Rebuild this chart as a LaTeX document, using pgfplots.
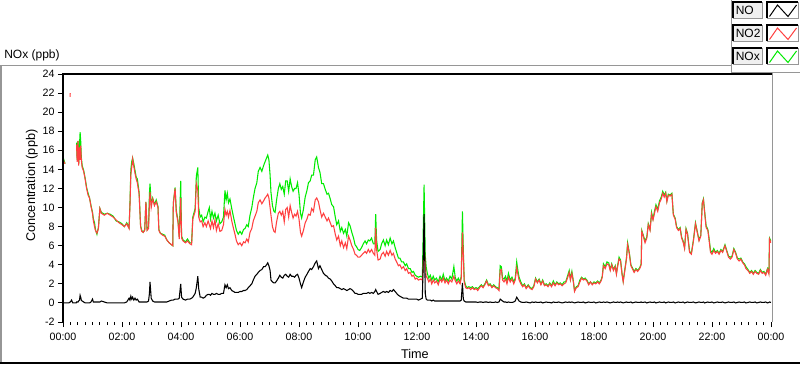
\documentclass[border=0pt]{standalone}
\usepackage{pgfplots}
\usepackage{pgfplotstable}
\pgfplotsset{compat=1.18}
\usepackage{fontspec}
\setmainfont{Liberation Sans}
\definecolor{noxgreen}{RGB}{0,235,0}
\definecolor{no2red}{RGB}{255,64,64}
\definecolor{framegray}{RGB}{150,150,150}

\pgfplotstableread{
t no no2 nox
0.00 0.0 15.2 15.3
0.03 0.0 14.8 15.0
0.07 0.0 14.6 14.6
0.08 0.0 nan nan
0.20 0.0 nan nan
0.24 0.1 21.6 nan
0.245 0.1 22.0 nan
0.25 0.1 nan nan
0.29 0.3 nan nan
0.33 0.0 nan nan
0.45 0.0 nan nan
0.46 0.1 16.6 16.8
0.48 0.1 14.8 15.0
0.51 0.1 17.0 17.0
0.53 0.2 14.4 14.5
0.56 0.3 16.3 16.6
0.58 0.8 15.0 17.9
0.60 0.6 16.5 17.0
0.62 0.3 15.0 15.3
0.65 0.2 14.2 14.4
0.70 0.1 13.8 13.9
0.75 0.0 13.0 13.1
0.80 0.0 12.0 12.1
0.85 0.0 11.3 11.5
0.90 0.0 11.0 11.0
0.95 0.1 10.1 10.2
1.00 0.4 9.4 9.5
1.03 0.1 8.6 8.8
1.07 0.1 8.0 8.4
1.10 0.1 7.6 7.7
1.15 0.1 7.3 7.2
1.20 0.1 7.8 7.9
1.25 0.1 9.9 9.9
1.30 0.2 9.4 9.5
1.40 0.1 9.2 9.3
1.50 0.0 9.4 9.4
1.60 0.0 9.2 9.3
1.70 0.0 9.0 9.1
1.80 0.0 8.7 8.6
1.90 0.0 8.4 8.5
2.00 0.0 8.2 8.3
2.08 0.0 8.0 8.0
2.16 0.1 8.3 8.4
2.24 0.5 7.8 7.9
2.27 0.3 10.2 10.4
2.30 0.7 13.5 14.0
2.33 0.4 14.2 14.8
2.36 0.6 15.1 15.2
2.40 0.3 14.3 14.6
2.44 0.5 13.6 13.9
2.48 0.3 13.0 13.2
2.52 0.4 12.6 13.0
2.58 0.1 11.4 11.6
2.63 0.1 8.0 8.1
2.67 0.1 7.5 7.6
2.72 0.1 7.4 7.4
2.77 0.1 7.6 7.7
2.81 0.1 10.6 10.6
2.85 0.1 7.6 7.7
2.90 0.2 7.8 8.0
2.93 1.0 10.5 11.5
2.95 2.2 11.6 12.5
2.99 0.5 10.0 10.4
3.04 0.2 10.9 11.0
3.10 0.1 10.2 10.3
3.16 0.1 10.6 10.8
3.22 0.1 10.0 10.1
3.25 0.1 7.6 7.7
3.30 0.1 7.3 7.3
3.38 0.1 7.1 7.2
3.45 0.1 7.0 7.1
3.52 0.1 6.6 6.6
3.60 0.2 6.3 6.3
3.68 0.3 6.1 6.1
3.72 0.3 6.0 6.0
3.74 0.3 10.4 10.5
3.80 0.4 12.0 12.1
3.84 0.4 9.5 9.7
3.90 0.4 8.4 8.6
3.94 0.5 6.7 6.9
3.99 2.0 11.0 12.8
4.02 0.6 6.8 7.0
4.07 0.4 6.5 6.6
4.15 0.3 6.3 6.4
4.22 0.4 6.5 6.7
4.30 0.4 6.2 6.3
4.36 0.5 6.1 6.3
4.40 0.6 8.8 9.0
4.48 1.0 9.6 9.9
4.52 1.6 12.5 13.3
4.57 2.8 11.8 14.2
4.60 1.5 9.0 10.0
4.65 0.6 8.5 9.0
4.70 0.6 8.6 9.2
4.75 0.5 8.0 8.5
4.81 0.6 8.4 9.0
4.86 0.8 8.0 8.9
4.92 0.9 8.6 9.6
4.96 0.9 8.2 10.0
5.00 0.8 7.8 8.8
5.05 1.0 8.6 9.6
5.10 0.9 7.9 8.9
5.15 0.9 8.7 9.4
5.20 1.0 7.6 8.6
5.26 0.9 8.3 9.2
5.32 0.9 7.5 8.3
5.38 1.0 7.6 8.5
5.44 1.0 8.2 9.0
5.49 1.9 9.8 11.8
5.53 1.6 9.2 10.8
5.57 1.9 9.6 11.5
5.61 1.5 9.0 10.5
5.66 1.6 9.7 10.9
5.72 1.3 8.6 9.9
5.78 1.2 7.8 9.0
5.83 1.1 7.2 8.3
5.88 1.1 6.5 7.6
5.94 1.1 6.1 7.2
6.00 1.2 6.3 7.5
6.06 1.2 6.0 7.2
6.12 1.3 6.4 7.7
6.17 1.3 6.3 7.8
6.23 1.4 6.7 8.2
6.28 1.6 6.4 8.0
6.34 1.8 7.4 9.2
6.40 2.0 7.8 10.0
6.45 2.4 8.6 11.0
6.51 2.8 9.1 12.0
6.57 3.0 9.6 12.6
6.62 3.2 10.5 13.8
6.68 3.4 10.8 14.2
6.74 3.5 10.4 13.8
6.80 3.8 10.7 14.4
6.85 3.8 11.0 14.8
6.90 4.0 11.2 15.2
6.94 4.2 11.4 15.5
6.98 3.9 11.0 15.0
7.02 3.4 10.0 13.4
7.05 2.4 9.2 11.6
7.10 2.2 8.0 10.2
7.15 2.1 7.5 9.6
7.19 2.1 7.4 9.5
7.24 2.3 8.5 10.8
7.30 2.6 9.4 12.0
7.35 2.9 9.6 12.5
7.40 2.7 9.2 11.9
7.45 2.6 9.6 12.2
7.50 2.9 8.5 11.4
7.55 3.0 9.8 12.8
7.60 2.8 10.0 12.8
7.65 2.7 9.0 11.7
7.70 3.0 10.2 13.0
7.75 2.8 9.5 12.2
7.80 2.8 8.9 11.7
7.85 2.7 9.3 12.0
7.90 2.9 9.1 12.0
7.95 3.0 9.6 12.6
8.00 2.6 8.8 11.4
8.05 2.0 7.4 9.4
8.09 1.6 7.0 8.9
8.15 2.2 7.6 9.8
8.21 2.7 8.4 11.1
8.27 3.0 8.8 11.8
8.32 3.3 9.3 12.6
8.38 3.6 9.2 12.8
8.43 3.5 9.9 13.4
8.49 3.8 9.6 13.4
8.55 4.2 10.8 15.0
8.60 4.4 11.0 15.3
8.66 3.6 10.6 14.2
8.71 3.9 9.8 13.7
8.77 3.5 9.0 12.5
8.83 3.1 9.4 12.5
8.89 2.9 9.0 11.9
8.95 2.8 8.6 11.4
9.00 2.6 8.9 11.5
9.06 2.5 8.4 10.9
9.11 2.3 8.0 10.3
9.17 2.0 8.1 10.1
9.23 1.8 7.2 9.0
9.28 1.6 6.6 8.2
9.34 1.6 7.0 8.6
9.40 1.5 6.0 7.5
9.45 1.4 6.5 7.9
9.51 1.5 5.8 7.3
9.57 1.4 6.3 7.7
9.62 1.3 5.7 7.0
9.68 1.4 7.0 8.4
9.73 1.5 6.6 8.1
9.79 1.4 6.0 7.4
9.85 1.2 5.6 6.8
9.90 1.0 5.1 6.1
9.95 1.0 5.0 5.9
10.00 0.9 4.8 5.6
10.06 0.9 4.8 5.5
10.12 0.9 5.0 5.8
10.18 1.0 5.2 6.2
10.24 1.0 5.4 6.5
10.29 1.0 5.2 6.2
10.35 1.1 5.6 6.6
10.40 1.0 5.3 6.5
10.46 1.1 5.6 6.8
10.52 1.0 5.2 6.2
10.57 1.2 5.0 6.2
10.60 1.4 7.9 9.3
10.63 1.2 5.6 6.6
10.68 0.9 4.5 5.4
10.75 1.0 4.6 5.6
10.80 1.1 5.1 6.2
10.86 1.2 5.3 6.6
10.92 1.1 4.9 6.0
10.97 1.2 5.4 6.6
11.03 1.1 5.0 6.1
11.09 1.3 5.5 6.8
11.15 1.2 5.0 6.2
11.20 1.4 5.2 6.5
11.26 1.2 4.6 5.8
11.31 1.0 4.3 5.3
11.37 0.8 3.9 4.7
11.42 0.7 4.0 4.7
11.48 0.6 3.6 4.3
11.54 0.5 3.8 4.3
11.60 0.5 3.4 3.9
11.65 0.5 3.6 4.1
11.71 0.4 3.1 3.6
11.77 0.4 3.2 3.6
11.83 0.4 2.8 3.2
11.88 0.4 2.9 3.3
11.94 0.4 2.5 2.9
11.99 0.4 2.6 2.8
12.05 0.3 2.4 2.7
12.12 0.4 2.5 2.8
12.18 0.5 2.4 2.7
12.20 2.8 3.0 5.6
12.24 9.3 6.3 12.4
12.28 1.0 4.0 5.0
12.31 0.4 2.8 3.8
12.35 0.3 2.6 3.1
12.40 0.3 2.2 2.6
12.45 0.3 2.5 2.9
12.50 0.2 2.0 2.4
12.55 0.3 2.4 2.8
12.60 0.2 2.1 2.4
12.66 0.2 2.3 2.6
12.72 0.2 1.9 2.2
12.78 0.2 2.5 2.8
12.84 0.2 2.2 2.4
12.89 0.2 2.6 3.0
12.95 0.2 2.1 2.3
13.00 0.2 2.4 2.6
13.06 0.2 2.0 2.3
13.12 0.2 2.4 2.8
13.18 0.2 2.2 2.5
13.25 0.2 2.8 3.8
13.30 0.2 2.3 2.6
13.35 0.2 2.0 2.3
13.40 0.2 2.3 2.6
13.46 0.2 2.0 2.2
13.50 0.3 2.6 2.8
13.54 2.1 7.4 9.6
13.57 0.4 5.0 5.6
13.60 0.2 2.2 2.4
13.65 0.1 1.6 1.8
13.70 0.1 1.5 1.6
13.76 0.1 1.6 1.7
13.82 0.1 1.4 1.6
13.88 0.1 1.6 1.7
13.94 0.1 1.4 1.5
14.00 0.1 1.5 1.6
14.06 0.05 1.3 1.5
14.12 0.1 1.6 1.7
14.18 0.1 1.8 1.9
14.24 0.05 1.6 1.7
14.30 0.1 1.9 2.0
14.36 0.1 2.3 2.4
14.42 0.05 1.8 1.9
14.48 0.1 1.9 2.0
14.54 0.05 1.6 1.7
14.60 0.05 1.8 1.9
14.66 0.1 1.6 1.7
14.72 0.05 1.5 1.6
14.78 0.1 1.3 1.5
14.82 0.4 3.4 3.9
14.86 0.3 3.5 3.8
14.90 0.2 2.4 2.6
14.95 0.1 2.2 2.5
15.00 0.1 2.5 2.8
15.05 0.05 2.0 2.3
15.10 0.1 2.7 3.1
15.16 0.05 2.2 2.4
15.22 0.05 2.5 2.7
15.28 0.1 2.0 2.2
15.33 0.2 2.4 2.6
15.38 0.6 3.7 4.3
15.42 0.4 3.0 3.4
15.46 0.2 2.4 2.7
15.52 0.1 2.0 2.2
15.58 0.05 1.7 1.8
15.64 0.05 1.9 2.0
15.70 0.1 1.5 1.6
15.77 0.05 1.8 1.9
15.84 0.0 1.5 1.6
15.90 0.1 1.4 1.5
15.96 0.05 1.7 1.8
16.02 0.1 2.5 2.6
16.08 0.05 2.1 2.2
16.14 0.05 2.4 2.5
16.20 0.1 1.9 2.0
16.26 0.0 2.3 2.4
16.32 0.05 1.8 1.9
16.38 0.1 1.9 2.0
16.44 0.05 1.7 1.8
16.50 0.05 2.0 2.1
16.56 0.0 1.7 1.8
16.62 0.1 2.1 2.3
16.68 0.05 1.8 1.9
16.74 0.05 2.1 2.2
16.80 0.1 1.9 2.0
16.86 0.05 2.0 2.1
16.92 0.0 1.8 1.9
16.98 0.05 2.0 2.2
17.04 0.1 2.1 2.2
17.10 0.05 2.6 2.8
17.16 0.1 3.2 3.4
17.20 0.05 2.4 2.5
17.25 0.1 3.1 3.3
17.30 0.05 2.2 2.3
17.34 0.0 1.2 1.3
17.40 0.05 1.6 1.7
17.46 0.1 1.7 1.8
17.52 0.05 2.2 2.4
17.58 0.05 2.6 2.7
17.64 0.1 2.4 2.5
17.70 0.0 2.5 2.6
17.76 0.05 2.3 2.4
17.82 0.1 1.9 2.0
17.88 0.05 2.2 2.2
17.94 0.05 1.9 2.0
18.00 0.1 2.1 2.2
18.06 0.0 2.0 2.1
18.12 0.05 2.2 2.3
18.18 0.1 2.0 2.1
18.24 0.05 2.3 2.4
18.28 0.05 2.7 2.8
18.32 0.1 3.9 4.1
18.38 0.05 3.6 3.8
18.44 0.1 4.1 4.3
18.50 0.05 4.0 4.2
18.55 0.0 3.4 3.5
18.60 0.05 4.0 4.1
18.66 0.1 3.4 3.5
18.72 0.05 3.8 3.9
18.76 0.05 3.0 3.1
18.80 0.1 3.8 3.9
18.85 0.05 4.6 4.8
18.90 0.1 4.4 4.5
18.95 0.05 3.0 3.1
18.99 0.0 2.2 2.3
19.04 0.05 3.3 3.4
19.10 0.1 4.6 4.7
19.14 0.05 6.1 6.3
19.20 0.05 5.1 5.2
19.25 0.1 3.9 4.0
19.30 0.0 3.6 3.7
19.36 0.05 3.2 3.3
19.42 0.1 3.5 3.6
19.48 0.05 3.3 3.4
19.55 0.05 3.6 3.7
19.60 0.1 4.0 4.1
19.62 0.05 7.5 7.6
19.67 0.05 7.0 7.1
19.73 0.1 6.3 6.5
19.79 0.0 6.8 6.9
19.84 0.05 8.2 8.3
19.90 0.1 7.6 7.7
19.95 0.05 9.3 9.5
20.00 0.05 8.7 8.8
20.05 0.1 9.4 9.6
20.10 0.0 10.1 10.3
20.16 0.05 9.6 9.8
20.22 0.1 10.5 10.7
20.28 0.05 10.9 11.1
20.33 0.05 11.5 11.7
20.38 0.1 11.1 11.3
20.43 0.0 11.5 11.6
20.47 0.05 10.6 10.7
20.52 0.1 11.3 11.4
20.58 0.05 11.2 11.3
20.64 0.05 11.4 11.5
20.69 0.1 9.2 9.3
20.75 0.0 8.8 8.9
20.80 0.05 7.9 8.0
20.86 0.1 7.6 7.7
20.92 0.05 7.8 7.9
20.97 0.05 6.8 6.9
21.02 0.1 6.4 6.5
21.07 0.0 5.7 5.8
21.12 0.05 7.7 7.8
21.17 0.1 7.2 7.3
21.24 0.05 5.3 5.4
21.30 0.05 5.1 5.2
21.37 0.1 6.5 6.6
21.44 0.0 8.3 8.4
21.50 0.05 7.4 7.5
21.56 0.1 6.5 6.6
21.62 0.05 7.0 7.1
21.67 0.05 10.4 10.5
21.71 0.1 10.8 10.9
21.75 0.0 9.5 9.6
21.80 0.05 7.9 8.1
21.86 0.1 7.6 7.7
21.90 0.05 6.6 6.8
21.95 0.05 5.3 5.5
22.00 0.1 5.1 5.3
22.06 0.0 5.5 5.7
22.12 0.05 5.2 5.3
22.18 0.1 5.4 5.5
22.24 0.05 5.1 5.2
22.30 0.05 5.5 5.6
22.36 0.1 5.3 5.4
22.44 0.0 6.0 6.1
22.50 0.05 5.4 5.5
22.56 0.1 4.8 4.9
22.62 0.05 4.6 4.8
22.68 0.05 4.8 4.9
22.74 0.1 5.6 5.7
22.80 0.0 5.2 5.3
22.86 0.05 4.6 4.7
22.92 0.1 4.4 4.6
22.98 0.05 4.6 4.7
23.04 0.05 4.2 4.3
23.10 0.1 4.0 4.1
23.15 0.0 3.6 3.8
23.22 0.05 3.4 3.5
23.28 0.1 3.1 3.2
23.34 0.05 3.3 3.4
23.40 0.05 3.0 3.1
23.46 0.1 3.3 3.4
23.52 0.0 3.1 3.2
23.58 0.05 3.0 3.1
23.64 0.1 3.4 3.5
23.70 0.05 3.1 3.2
23.76 0.05 3.2 3.3
23.82 0.1 2.9 3.0
23.88 0.0 3.5 3.6
23.93 0.05 3.0 3.2
23.95 0.1 6.7 6.8
24.00 0.05 6.3 6.5
}\datatable

\begin{document}
\begin{tikzpicture}
\useasboundingbox (0,0) rectangle (600pt,-273.75pt);
\begin{scope}[x=0.75pt,y=-0.75pt]
  % panel frame
  \draw[framegray, line width=0.75pt] (0,65) -- (731,65);
  \draw[framegray, line width=1pt] (1,65) -- (1,363);
  \draw[black, line width=1.2pt] (0,363) -- (800,363);
  % legend block frame
  \draw[framegray, line width=0.75pt] (731,0) -- (731,72) -- (800,72);
  % title
  \node[anchor=west, inner sep=0pt, font=\fontsize{9}{10}\selectfont] at (4,55) {NOx (ppb)};
  % legend entries
  \foreach \i/\lab/\col in {0/NO/black,1/NO2/no2red,2/NOx/noxgreen}{
    \pgfmathsetmacro{\yo}{23*\i}
    \begin{scope}[yshift=-0.75*\yo pt]
      \fill[white!94!black] (733,2) rectangle (762,18);
      \draw[framegray, line width=0.75pt] (733,18) -- (762,18) -- (762,2);
      \draw[black, line width=0.9pt] (733,18) -- (733,2) -- (762,2);
      \node[anchor=west, inner sep=0pt, font=\fontsize{9}{10}\selectfont] at (735.5,10.5) {\lab};
      \fill[white] (767,2) rectangle (798,18);
      \draw[framegray, line width=0.75pt] (767,18) -- (798,18) -- (798,2);
      \draw[black, line width=0.9pt] (767,18) -- (767,2) -- (798,2);
      \draw[\col, line width=0.75pt] (769.5,16.5) -- (777.5,5) -- (788,16.5) -- (796.5,5);
    \end{scope}
  }
\end{scope}
\begin{axis}[
  at={(47.25pt,-241.5pt)}, anchor=south west,
  scale only axis, width=531pt, height=186pt,
  xmin=0, xmax=24, ymin=-2, ymax=24,
  xtick={0,2,4,6,8,10,12,14,16,18,20,22,24},
  xticklabels={00:00,02:00,04:00,06:00,08:00,10:00,12:00,14:00,16:00,18:00,20:00,22:00,00:00},
  minor x tick num=7,
  ytick={-2,0,2,4,6,8,10,12,14,16,18,20,22,24},
  yticklabels={-2,0,2,4,6,8,10,12,14,16,18,20,22,24},
  tick align=outside, tick pos=left,
  major tick length=3.8pt, minor tick length=2.3pt,
  tick style={black, line width=0.75pt},
  axis line style={draw=none},
  ticklabel style={font=\fontsize{8}{9}\selectfont},
  yticklabel style={xshift=1pt},
  xticklabel style={yshift=-1pt},
  xlabel={Time}, ylabel={Concentration (ppb)},
  label style={font=\fontsize{9.5}{11}\selectfont},
  xlabel style={at={(axis description cs:0.497,-0.13)}, anchor=center},
  ylabel style={at={(axis description cs:-0.044,0.55)}, anchor=center, rotate=0},
  unbounded coords=jump,
  clip=true,
]
\addplot[noxgreen, line width=0.8pt] table[x=t, y=nox] {\datatable};
\addplot[no2red, line width=0.8pt] table[x=t, y=no2] {\datatable};
\addplot[black, line width=0.8pt] table[x=t, y=no] {\datatable};
\end{axis}
\begin{scope}[x=0.75pt,y=-0.75pt]
  \draw[black, line width=1.5pt] (63,322) -- (63,74) -- (772,74);
  \draw[framegray, line width=1.2pt] (772.5,72) -- (772.5,322);
\end{scope}
\end{tikzpicture}
\end{document}
